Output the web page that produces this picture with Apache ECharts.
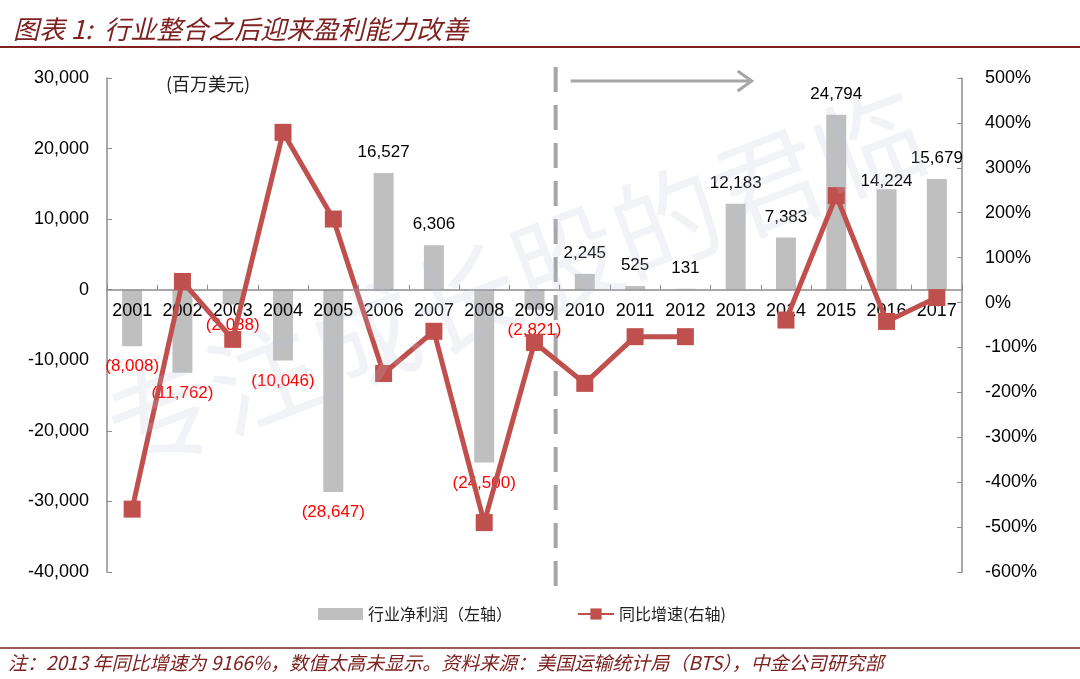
<!DOCTYPE html>
<html>
	<head>
		<meta charset="UTF-8">
		<title>行业整合之后迎来盈利能力改善</title>
		<script src="https://cdn.jsdelivr.net/npm/echarts@6/dist/echarts.min.js"></script>
		<style>
			html, body { margin: 0; padding: 0; background: #fff; }
			#main { width: 1080px; height: 679px; }
		</style>
	</head>
	<body>
		<div id="main"></div>
		<script>
			// 年份
			var years = ['2001','2002','2003','2004','2005','2006','2007','2008','2009',
				'2010','2011','2012','2013','2014','2015','2016','2017'];
			// 行业净利润（百万美元，左轴）
			var profit = [-8008, -11762, -2088, -10046, -28647, 16527, 6306, -24500, -2821,
				2245, 525, 131, 12183, 7383, 24794, 14224, 15679];
			// 同比增速（%，右轴），2013 年 9166% 不显示
			var growth = [-460, 47, -82, 379, 186, -158, -64, -490, -89,
				-180, -76, -76, null, -39, 238, -42, 11];
			// 刻度
			var leftTicks = { min: -40000, max: 30000, step: 10000 };
			var rightTicks = { min: -600, max: 500, step: 100 };

			var FONT = '"Liberation Sans", Arial, "Noto Sans CJK SC", sans-serif';
			var CJK = '"Noto Sans CJK SC", sans-serif';
			var AXIS_GRAY = '#8c8c8c';
			var RED_LINE = '#c0504d';
			var TITLE_RED = '#7d2121';

			var GRID_TOP = 78, GRID_BOTTOM = 107, H = 679;
			var gridH = H - GRID_TOP - GRID_BOTTOM;
			// x轴放在左轴 0 的位置
			var xOffset = -gridH * (0 - leftTicks.min) / (leftTicks.max - leftTicks.min);

			function fmt(n) {
				return String(n).replace(/\B(?=(\d{3})+(?!\d))/g, ',');
			}

			// 柱子数据，负值标签在下方用红色括号
			var barData = profit.map(function(v, i) {
				var neg = v < 0;
				var item = {
					value: v,
					label: {
						position: neg ? 'bottom' : 'top',
						color: neg ? '#ff0000' : '#000',
						distance: 12
					}
				};
				if (years[i] === '2016') item.label.distance = 0;
				return item;
			});

			var chart = echarts.init(document.getElementById('main'));

			var option = {
				animation: false,
				textStyle: { fontFamily: FONT },
				title: {
					text: '图表 1:  行业整合之后迎来盈利能力改善',
					left: 8,
					top: 11,
					textStyle: {
						fontFamily: CJK,
						fontSize: 26,
						fontStyle: 'italic',
						fontWeight: 'normal',
						color: TITLE_RED
					}
				},
				grid: { left: 107, right: 118, top: GRID_TOP, bottom: GRID_BOTTOM, containLabel: false },
				legend: [{
					data: ['行业净利润（左轴）'],
					left: 313,
					top: 601,
					itemWidth: 45,
					itemHeight: 12,
					itemGap: 4,
					icon: 'rect',
					textStyle: { fontFamily: CJK, fontSize: 16, color: '#222' }
				}, {
					data: ['同比增速(右轴)'],
					left: 572,
					top: 601,
					itemWidth: 36,
					itemHeight: 14,
					textStyle: { fontFamily: CJK, fontSize: 16, color: '#222' }
				}],
				xAxis: {
					type: 'category',
					data: years,
					boundaryGap: true,
					position: 'bottom',
					offset: xOffset,
					axisLine: { onZero: false, lineStyle: { color: AXIS_GRAY, width: 1.5 } },
					axisTick: { show: true, inside: true, length: 5, interval: 0, lineStyle: { color: AXIS_GRAY } },
					axisLabel: { color: '#000', fontSize: 18, margin: 12, interval: 0, fontFamily: FONT },
					splitLine: { show: false },
					z: 3
				},
				yAxis: [{
					type: 'value',
					min: leftTicks.min,
					max: leftTicks.max,
					interval: leftTicks.step,
					axisLine: { show: true, onZero: false, lineStyle: { color: AXIS_GRAY, width: 1.5 } },
					axisTick: { show: true, inside: true, length: 5, lineStyle: { color: AXIS_GRAY } },
					axisLabel: {
						color: '#000', fontSize: 18, margin: 18, fontFamily: FONT,
						formatter: function(v) { return v < 0 ? '-' + fmt(-v) : fmt(v); }
					},
					splitLine: { show: false }
				}, {
					type: 'value',
					min: rightTicks.min,
					max: rightTicks.max,
					interval: rightTicks.step,
					position: 'right',
					axisLine: { show: true, onZero: false, lineStyle: { color: AXIS_GRAY, width: 1.5 } },
					axisTick: { show: true, inside: true, length: 5, lineStyle: { color: AXIS_GRAY } },
					axisLabel: {
						color: '#000', fontSize: 18, margin: 23, fontFamily: FONT,
						formatter: '{value}%'
					},
					splitLine: { show: false }
				}],
				series: [{
					name: '行业净利润（左轴）',
					type: 'bar',
					yAxisIndex: 0,
					barWidth: 20,
					itemStyle: { color: '#bfbfbf' },
					label: {
						show: true,
						fontSize: 17,
						fontFamily: FONT,
						formatter: function(p) {
							return p.value < 0 ? '(' + fmt(-p.value) + ')' : fmt(p.value);
						}
					},
					data: barData,
					z: 2
				}, {
					name: '同比增速(右轴)',
					type: 'line',
					yAxisIndex: 1,
					data: growth,
					connectNulls: false,
					symbol: 'rect',
					symbolSize: 17,
					lineStyle: { color: RED_LINE, width: 5 },
					itemStyle: { color: RED_LINE },
					z: 5
				}],
				graphic: [{
					// 水印
					type: 'text',
					x: 515,
					y: 280,
					rotation: 21 * Math.PI / 180,
					z: 100,
					style: {
						text: '专注成长股的君临',
						font: '108px "Noto Sans CJK SC"',
						fill: 'rgba(190,195,215,0.2)',
						align: 'center',
						verticalAlign: 'middle'
					},
					silent: true
				}, {
					type: 'text',
					x: 166,
					y: 84,
					style: {
						text: '(百万美元)',
						font: '18px "Noto Sans CJK SC"',
						fill: '#222',
						verticalAlign: 'middle'
					}
				}, {
					type: 'line',
					shape: { x1: 0, y1: 47, x2: 1080, y2: 47 },
					style: { stroke: TITLE_RED, lineWidth: 2 }
				}, {
					type: 'line',
					shape: { x1: 0, y1: 648, x2: 1080, y2: 648 },
					style: { stroke: TITLE_RED, lineWidth: 1.5 }
				}, {
					type: 'text',
					x: 8,
					y: 663,
					style: {
						text: '注：2013 年同比增速为 9166%，数值太高未显示。资料来源：美国运输统计局（BTS），中金公司研究部',
						font: 'italic 19px "Noto Sans CJK SC"',
						fill: TITLE_RED,
						verticalAlign: 'middle'
					}
				}]
			};

			chart.setOption(option);

			// 2009/2010 之间的分界虚线和箭头
			var x09 = chart.convertToPixel({ xAxisIndex: 0 }, '2009');
			var x10 = chart.convertToPixel({ xAxisIndex: 0 }, '2010');
			var sepX = (x09 + x10) / 2 - 4;
			var arrowY = 81;
			var arrowEnd = sepX + 196;
			var extra = option.graphic.concat([{
				type: 'line',
				shape: { x1: sepX, y1: 67, x2: sepX, y2: 588 },
				style: { stroke: '#a6a6a6', lineWidth: 4, lineDash: [25, 13] },
				z: 1
			}, {
				type: 'line',
				shape: { x1: sepX + 15, y1: arrowY, x2: arrowEnd, y2: arrowY },
				style: { stroke: '#a6a6a6', lineWidth: 3 }
			}, {
				type: 'polyline',
				shape: { points: [[arrowEnd - 14, arrowY - 10], [arrowEnd, arrowY], [arrowEnd - 14, arrowY + 10]] },
				style: { stroke: '#a6a6a6', lineWidth: 3, fill: null }
			}]);
			chart.setOption({ graphic: extra }, { replaceMerge: ['graphic'] });
		</script>
	</body>
</html>
